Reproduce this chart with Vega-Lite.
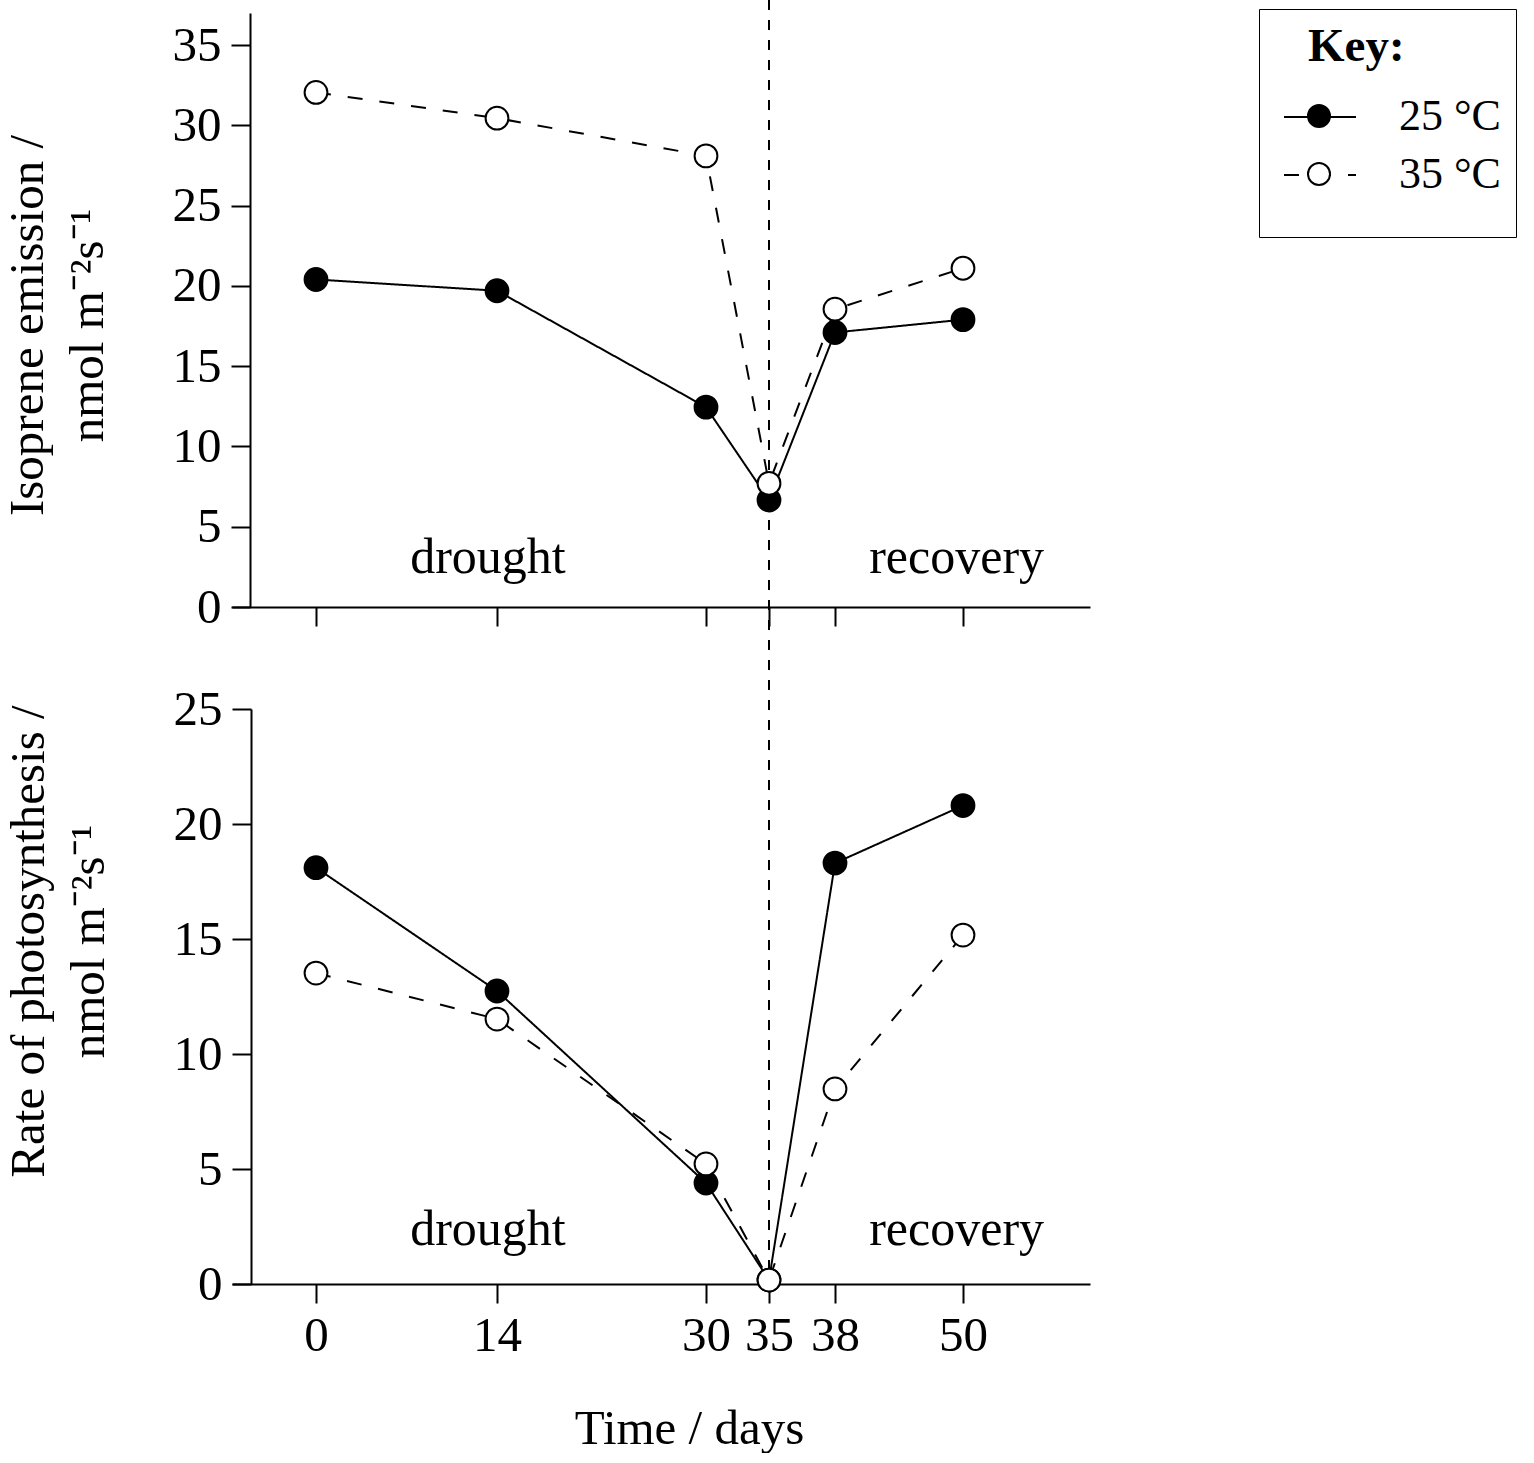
{
  "$schema": "https://vega.github.io/schema/vega-lite/v6.json",
  "padding": {"left": 3, "top": -2, "right": 0, "bottom": 0},
  "autosize": {"type": "pad"},
  "background": "white",
  "bounds": "flush",
  "spacing": 102,
  "datasets": {
    "iso": [
      {"temp": "25 °C", "day": 0, "value": 20.4},
      {"temp": "25 °C", "day": 14, "value": 19.7},
      {"temp": "25 °C", "day": 30, "value": 12.45},
      {"temp": "25 °C", "day": 35, "value": 6.66},
      {"temp": "25 °C", "day": 38, "value": 17.1},
      {"temp": "25 °C", "day": 50, "value": 17.9},
      {"temp": "35 °C", "day": 0, "value": 32.05},
      {"temp": "35 °C", "day": 14, "value": 30.45},
      {"temp": "35 °C", "day": 30, "value": 28.1},
      {"temp": "35 °C", "day": 35, "value": 7.7},
      {"temp": "35 °C", "day": 38, "value": 18.55},
      {"temp": "35 °C", "day": 50, "value": 21.1}
    ],
    "photo": [
      {"temp": "25 °C", "day": 0, "value": 18.1},
      {"temp": "25 °C", "day": 14, "value": 12.74},
      {"temp": "25 °C", "day": 30, "value": 4.39},
      {"temp": "25 °C", "day": 35, "value": 0.17},
      {"temp": "25 °C", "day": 38, "value": 18.3},
      {"temp": "25 °C", "day": 50, "value": 20.8},
      {"temp": "35 °C", "day": 0, "value": 13.52},
      {"temp": "35 °C", "day": 14, "value": 11.52},
      {"temp": "35 °C", "day": 30, "value": 5.22},
      {"temp": "35 °C", "day": 35, "value": 0.17},
      {"temp": "35 °C", "day": 38, "value": 8.48},
      {"temp": "35 °C", "day": 50, "value": 15.17}
    ],
    "isoNotes": [
      {"label": "drought", "day": 13.3, "value": 2.1},
      {"label": "recovery", "day": 49.4, "value": 2.1}
    ],
    "photoNotes": [
      {"label": "drought", "day": 13.3, "value": 1.7},
      {"label": "recovery", "day": 49.4, "value": 1.7}
    ]
  },
  "config": {
    "font": "Liberation Serif",
    "view": {"stroke": null},
    "axis": {
      "domainColor": "black", "domainWidth": 2, "tickColor": "black", "tickWidth": 2, "tickSize": 19,
      "labelColor": "black", "labelFont": "Liberation Serif", "labelFontSize": 49,
      "titleColor": "black", "titleFont": "Liberation Serif", "titleFontSize": 49, "titleFontWeight": "normal",
      "grid": false
    }
  },
  "resolve": {"scale": {"strokeDash": "independent", "fill": "independent"}, "legend": {"strokeDash": "independent", "fill": "independent"}},
  "vconcat": [
    {
      "width": 858,
      "height": 594,
      "layer": [
        {
          "data": {"values": [{"day": 35}]},
          "mark": {"type": "rule", "color": "black", "strokeWidth": 2, "strokeDash": [10, 10]},
          "encoding": {
            "x": {"field": "day", "type": "quantitative"},
            "y": {"datum": 37.81},
            "y2": {"datum": -42.17}
          }
        },
        {
          "data": {"name": "iso"},
          "mark": {"type": "line", "color": "black", "strokeWidth": 2},
          "encoding": {
            "x": {
              "field": "day", "type": "quantitative",
              "scale": {"domain": [-6.5, 0, 14, 30, 35, 38, 50, 62], "range": [0, 84, 265, 474, 537, 603, 731, 858], "nice": false, "zero": false},
              "axis": {"values": [0, 14, 30, 35, 38, 50], "labels": false, "title": null}
            },
            "y": {
              "field": "value", "type": "quantitative",
              "scale": {"domain": [0, 37], "nice": false, "zero": false},
              "axis": {"values": [0, 5, 10, 15, 20, 25, 30, 35], "offset": -18, "labelPadding": 10, "title": ["Isoprene emission /", "nmol m⁻²s⁻¹"], "titleLineHeight": 60, "titlePadding": 60, "titleY": 312}
            },
            "strokeDash": {
              "field": "temp", "type": "nominal",
              "scale": {"domain": ["25 °C", "35 °C"], "range": [[1, 0], [15, 17]]},
              "legend": {
                "orient": "none", "legendX": 1027, "legendY": -4,
                "title": "\u2800Key:", "titleFont": "Liberation Serif", "titleFontSize": 47, "titleFontWeight": "bold", "titleColor": "black", "titlePadding": 20,
                "labelFont": "Liberation Serif", "labelFontSize": 44, "labelColor": "black", "labelOffset": 73,
                "symbolType": "M-0.64,0H2.24", "symbolSize": 2500, "symbolStrokeWidth": 2, "symbolStrokeColor": "black",
                "rowPadding": 10, "padding": 15, "strokeColor": "black", "fillColor": "white",
                "encode": {"symbols": {"update": {
                  "strokeDash": {"signal": "datum.value === '35 °C' ? [7, 8] : [1, 0]"},
                  "shape": {"signal": "datum.value === '35 °C' ? 'M-0.64,0H2.24M0,1.72' : 'M-0.64,0H2.24'"}
                }}},
                "zindex": 1
              }
            }
          }
        },
        {
          "data": {"name": "iso"},
          "mark": {"type": "point", "filled": true, "stroke": "black", "strokeWidth": 2, "size": 520, "opacity": 1},
          "encoding": {
            "x": {"field": "day", "type": "quantitative"},
            "y": {"field": "value", "type": "quantitative"},
            "fill": {
              "field": "temp", "type": "nominal",
              "scale": {"range": ["black", "white"]},
              "legend": {
                "orient": "none", "legendX": 1075, "legendY": 91,
                "title": null,
                "labelFontSize": 1, "labelExpr": "''", "labelOffset": 0,
                "symbolType": "circle", "symbolSize": 484, "symbolStrokeWidth": 2, "symbolStrokeColor": "black", "symbolOpacity": 1,
                "rowPadding": 28, "padding": 0,
                "zindex": 2
              }
            }
          }
        },
        {
          "data": {"name": "isoNotes"},
          "mark": {"type": "text", "fontSize": 50, "font": "Liberation Serif", "color": "black", "align": "center", "baseline": "alphabetic"},
          "encoding": {
            "x": {"field": "day", "type": "quantitative"},
            "y": {"field": "value", "type": "quantitative"},
            "text": {"field": "label"}
          }
        }
      ]
    },
    {
      "width": 858,
      "height": 575,
      "layer": [
        {
          "data": {"name": "photo"},
          "mark": {"type": "line", "color": "black", "strokeWidth": 2},
          "encoding": {
            "x": {
              "field": "day", "type": "quantitative",
              "scale": {"domain": [-6.5, 0, 14, 30, 35, 38, 50, 62], "range": [0, 84, 265, 474, 537, 603, 731, 858], "nice": false, "zero": false},
              "axis": {"values": [0, 14, 30, 35, 38, 50], "title": "Time / days", "titlePadding": 44, "titleX": 457, "labelPadding": 8}
            },
            "y": {
              "field": "value", "type": "quantitative",
              "scale": {"domain": [0, 25], "nice": false, "zero": false},
              "axis": {"values": [0, 5, 10, 15, 20, 25], "offset": -19, "labelPadding": 10, "title": ["Rate of photosynthesis /", "nmol m⁻²s⁻¹"], "titleLineHeight": 60, "titlePadding": 60, "titleY": 232}
            },
            "strokeDash": {
              "field": "temp", "type": "nominal",
              "scale": {"domain": ["25 °C", "35 °C"], "range": [[1, 0], [15, 17]]},
              "legend": null
            }
          }
        },
        {
          "data": {"name": "photo"},
          "mark": {"type": "point", "filled": true, "stroke": "black", "strokeWidth": 2, "size": 520, "opacity": 1},
          "encoding": {
            "x": {"field": "day", "type": "quantitative"},
            "y": {"field": "value", "type": "quantitative"},
            "fill": {
              "field": "temp", "type": "nominal",
              "scale": {"range": ["black", "white"]},
              "legend": null
            }
          }
        },
        {
          "data": {"name": "photoNotes"},
          "mark": {"type": "text", "fontSize": 50, "font": "Liberation Serif", "color": "black", "align": "center", "baseline": "alphabetic"},
          "encoding": {
            "x": {"field": "day", "type": "quantitative"},
            "y": {"field": "value", "type": "quantitative"},
            "text": {"field": "label"}
          }
        }
      ]
    }
  ]
}
